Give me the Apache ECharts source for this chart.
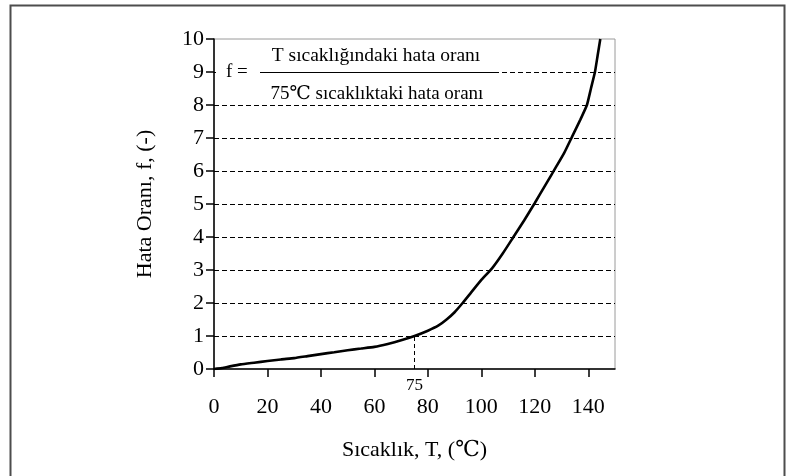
<!DOCTYPE html>
<html>
<head>
<meta charset="utf-8">
<script src="https://cdn.jsdelivr.net/npm/echarts@6/dist/echarts.min.js"></script>
<style>
  html, body { margin: 0; padding: 0; background: #fff; }
  #chart { width: 791px; height: 476px; }
</style>
</head>
<body>
<div id="chart"></div>
<script>
// Temperature (°C) and failure-rate factor f relative to 75 °C
const temperature = [0, 3, 6, 10, 15, 20, 25, 30, 35, 40, 45, 50, 55, 60, 65, 70, 75,
  80, 84, 87, 90, 93, 96, 100, 104, 108, 112, 116, 120, 124, 128, 131, 134, 137,
  139.5, 141, 142.5, 143.5, 144.5];
const failureRatio = [0, 0.03, 0.08, 0.14, 0.19, 0.24, 0.29, 0.33, 0.39, 0.45, 0.51, 0.57, 0.62, 0.67, 0.76, 0.87, 1.0,
  1.16, 1.32, 1.5, 1.72, 2.0, 2.3, 2.7, 3.05, 3.5, 4.0, 4.5, 5.03, 5.58, 6.13, 6.55, 7.05, 7.55,
  8.0, 8.5, 9.0, 9.5, 10.0];

const referenceTemp = 75;
const referenceRatio = 1;

const xTicks = [0, 20, 40, 60, 80, 100, 120, 140];

const xTitle = 'Sıcaklık, T, (℃)';
const yTitle = 'Hata Oranı, f, (-)';
const numeratorText = 'T sıcaklığındaki hata oranı';
const denominatorText = '75℃ sıcaklıktaki hata oranı';

const serif = '"Liberation Serif", "Times New Roman", "DejaVu Serif", serif';

const points = temperature.map((t, i) => [t, failureRatio[i]]);

const chart = echarts.init(document.getElementById('chart'), null, { renderer: 'canvas' });

const gridBox = { left: 214, top: 39, width: 401, height: 330 };

chart.setOption({
  animation: false,
  backgroundColor: '#fff',
  grid: {
    left: gridBox.left, top: gridBox.top, width: gridBox.width, height: gridBox.height,
    show: true, borderColor: '#9a9a9a', borderWidth: 1, backgroundColor: 'transparent'
  },
  xAxis: {
    type: 'value', min: 0, max: 150, interval: 20,
    name: xTitle, nameLocation: 'middle', nameGap: 70,
    nameTextStyle: { fontFamily: serif, fontSize: 22, color: '#000' },
    axisLine: { show: true, lineStyle: { color: '#000', width: 1.5 } },
    axisTick: { show: true, length: 8, lineStyle: { color: '#000', width: 1.5 },
      customValues: xTicks },
    axisLabel: { fontFamily: serif, fontSize: 22, color: '#000', margin: 27,
      customValues: xTicks },
    splitLine: { show: false }
  },
  yAxis: {
    type: 'value', min: 0, max: 10, interval: 1,
    name: yTitle, nameLocation: 'middle', nameGap: 58,
    nameTextStyle: { fontFamily: serif, fontSize: 22, color: '#000' },
    axisLine: { show: true, lineStyle: { color: '#000', width: 1.5 } },
    axisTick: { show: true, length: 8, lineStyle: { color: '#000', width: 1.5 } },
    axisLabel: { fontFamily: serif, fontSize: 22, color: '#000', margin: 10 },
    splitLine: { show: true, showMinLine: false, showMaxLine: false,
      lineStyle: { color: '#000', width: 1, type: [5, 3] } }
  },
  series: [{
    type: 'line',
    data: points,
    showSymbol: false,
    smooth: 0.15,
    lineStyle: { color: '#000', width: 2.6 },
    z: 5,
    markLine: {
      silent: true,
      symbol: 'none',
      lineStyle: { color: '#000', width: 1, type: [4, 3] },
      label: {
        show: true, position: 'start', distance: 8,
        formatter: String(referenceTemp),
        fontFamily: serif, fontSize: 17, color: '#000'
      },
      data: [[
        { coord: [referenceTemp, 0] },
        { coord: [referenceTemp, referenceRatio] }
      ]]
    }
  }],
  graphic: [
    {
      type: 'rect', z: 10,
      shape: { x: 216, y: 44, width: 281, height: 58 },
      style: { fill: '#fff' }
    },
    {
      type: 'text', z: 11, left: 226, top: 63,
      style: { text: 'f =', font: '19px ' + serif, fill: '#000' }
    },
    {
      type: 'line', z: 11,
      shape: { x1: 260, y1: 72.5, x2: 497, y2: 72.5 },
      style: { stroke: '#000', lineWidth: 1.2 }
    },
    {
      type: 'text', z: 11, x: 376, y: 56,
      style: { text: numeratorText, font: '19.5px ' + serif, fill: '#000',
        align: 'center', verticalAlign: 'middle' }
    },
    {
      type: 'text', z: 11, x: 377, y: 94,
      style: { text: denominatorText, font: '19px ' + serif, fill: '#000',
        align: 'center', verticalAlign: 'middle' }
    },
    {
      type: 'rect', z: 12, silent: true,
      shape: { x: 10.5, y: 5.5, width: 774, height: 490 },
      style: { fill: 'none', stroke: '#4d4d4d', lineWidth: 2 }
    }
  ]
});
</script>
</body>
</html>
